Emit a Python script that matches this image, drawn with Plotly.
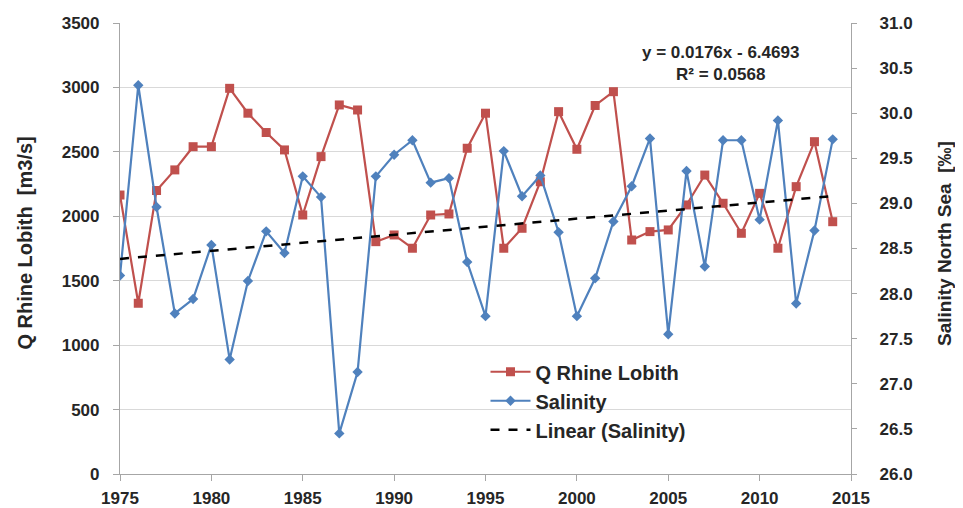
import numpy as np
import plotly.graph_objects as go

years = list(range(1975, 2015))
q_rhine = [2165, 1325, 2200, 2360, 2540, 2540, 2993, 2800, 2650, 2515,
           2010, 2463, 2864, 2825, 1803, 1855, 1752, 2010, 2018, 2528,
           2800, 1752, 1907, 2268, 2812, 2520, 2860, 2967, 1816, 1881,
           1894, 2088, 2320, 2101, 1868, 2178, 1752, 2230, 2579, 1958]
salinity = [28.20, 30.31, 28.96, 27.78, 27.94, 28.54, 27.27, 28.14, 28.69, 28.45,
            29.30, 29.07, 26.45, 27.13, 29.30, 29.54, 29.70, 29.23, 29.28, 28.35,
            27.75, 29.58, 29.08, 29.31, 28.68, 27.75, 28.17, 28.80, 29.19, 29.72,
            27.55, 29.36, 28.30, 29.70, 29.70, 28.82, 29.92, 27.89, 28.70, 29.71]
left_ticks = [0, 500, 1000, 1500, 2000, 2500, 3000, 3500]
right_ticks = [26.0, 26.5, 27.0, 27.5, 28.0, 28.5, 29.0, 29.5, 30.0, 30.5, 31.0]
x_ticks = [1975, 1980, 1985, 1990, 1995, 2000, 2005, 2010, 2015]
equation_text = "y = 0.0176x - 6.4693<br>R² = 0.0568"

slope, intercept = np.polyfit(years, salinity, 1)
trend = [slope * y + intercept for y in years]

FONT = "Liberation Sans"
TXT = "#262626"
RED = "#C0504D"
BLUE = "#4F81BD"

fig = go.Figure()
fig.add_trace(go.Scatter(
    x=years, y=q_rhine, name="<b>Q Rhine Lobith</b>", mode="lines+markers",
    line=dict(color=RED, width=2.2),
    marker=dict(symbol="square", size=9, color=RED),
))
fig.add_trace(go.Scatter(
    x=years, y=salinity, name="<b>Salinity</b>", mode="lines+markers", yaxis="y2",
    line=dict(color=BLUE, width=2.2),
    marker=dict(symbol="diamond", size=8, color=BLUE),
))
fig.add_trace(go.Scatter(
    x=years, y=trend, name="<b>Linear (Salinity)</b>", mode="lines", yaxis="y2",
    line=dict(color="black", width=2.5, dash="dash"),
))

axis_common = dict(
    showline=True, linecolor="#A6A6A6", linewidth=1.2,
    ticks="outside", tickcolor="#A6A6A6", ticklen=6,
    tickfont=dict(family=FONT, size=17, color=TXT, weight="bold"),
    zeroline=False, automargin=False,
)

# The page adds an 8px body margin, so the figure is 8px smaller and shifted.
fig.update_layout(
    width=955, height=500,
    margin=dict(l=112, r=112, t=15, b=34, autoexpand=False),
    paper_bgcolor="white", plot_bgcolor="white",
    font=dict(family=FONT, color=TXT),
    showlegend=True,
    legend=dict(
        x=0.50, y=0.27, xanchor="left", yanchor="top",
        bgcolor="rgba(0,0,0,0)",
        font=dict(family=FONT, size=20, color=TXT),
        tracegroupgap=0, itemwidth=40,
    ),
    xaxis=dict(
        range=[1975, 2015], tickvals=x_ticks, showgrid=False,
        ticklabelstandoff=2, **axis_common,
    ),
    yaxis=dict(
        range=[0, 3500], tickvals=left_ticks, showgrid=True,
        gridcolor="#D9D9D9", gridwidth=1.2, ticklabelstandoff=10, **axis_common,
    ),
    yaxis2=dict(
        range=[26, 31], tickvals=right_ticks, tickformat=".1f",
        overlaying="y", side="right", showgrid=False, ticklabelstandoff=19,
        **{**axis_common, "ticklen": 5},
    ),
    annotations=[
        dict(text="<b>" + equation_text + "</b>", x=0.821, y=0.911, xref="paper", yref="paper",
             xanchor="center", yanchor="middle",
             showarrow=False, align="center",
             font=dict(family=FONT, size=17, color=TXT)),
        dict(text="<b>Q Rhine Lobith  [m3/s]</b>", x=-0.130, y=0.513, xref="paper", yref="paper",
             xanchor="center", yanchor="middle",
             textangle=-90, showarrow=False,
             font=dict(family=FONT, size=20, color=TXT)),
        dict(text="<b>Salinity North Sea  [‰]</b>", x=1.127, y=0.512, xref="paper", yref="paper",
             xanchor="center", yanchor="middle",
             textangle=-90, showarrow=False,
             font=dict(family=FONT, size=19, color=TXT)),
    ],
)

fig.write_html("out.html")
